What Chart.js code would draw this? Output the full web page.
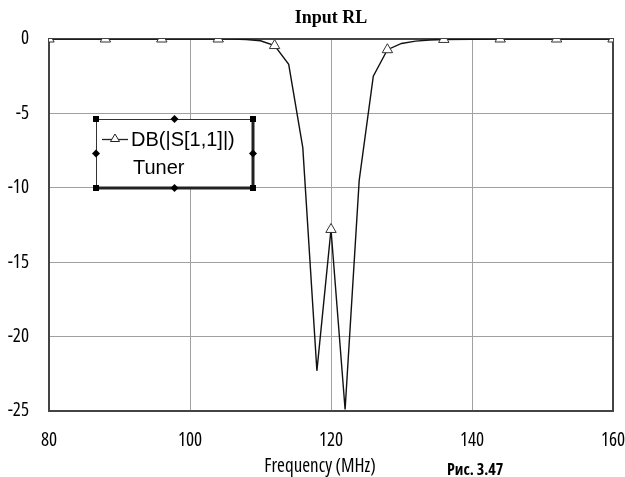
<!DOCTYPE html>
<html>
<head>
<meta charset="utf-8">
<script src="https://cdn.jsdelivr.net/npm/chart.js@4/dist/chart.umd.min.js"></script>
<style>
html,body{margin:0;padding:0;background:#fff;}
#c{display:block;}
</style>
</head>
<body>
<canvas id="c" width="625" height="477"></canvas>
<script>
// ---- data ----
const chartTitle = "Input RL";
const xAxisTitle = "Frequency (MHz)";
const caption = "Рис. 3.47";
const seriesName = ["DB(|S[1,1]|)", "Tuner"];
const freq = [80, 88, 96, 104, 106, 108, 110, 112, 114, 116, 118, 120, 122, 124, 126, 128, 130, 132, 134, 136, 144, 152, 160];
const s11  = [0, 0, 0, 0, -0.01, -0.04, -0.12, -0.44, -1.7, -7.3, -22.3, -12.8, -24.9, -9.5, -2.5, -0.72, -0.3, -0.14, -0.07, -0.03, 0, 0, 0];
const markerStep = 8;
const xTicks = [80, 100, 120, 140, 160];
const yTicks = [0, -5, -10, -15, -20, -25];

const points = freq.map((f, i) => ({x: f, y: s11[i]}));
const narrowFamily = '"Open Sans", "DejaVu Sans Condensed", sans-serif';
const tickFont = {family: narrowFamily, size: 19, weight: 'condensed'};

const decor = {
  id: 'decor',
  beforeDatasetsDraw(chart) {
    const {ctx, chartArea: a} = chart;
    ctx.save();
    ctx.strokeStyle = '#444';
    ctx.lineWidth = 2;
    ctx.strokeRect(a.left, a.top, a.right - a.left, a.bottom - a.top);
    ctx.restore();
  },
  afterDraw(chart) {
    const {ctx, chartArea: a} = chart;
    ctx.save();
    ctx.fillStyle = '#000';
    ctx.font = 'bold 18px "Liberation Serif", "Times New Roman", serif';
    ctx.textAlign = 'center';
    ctx.textBaseline = 'middle';
    ctx.fillText(chartTitle, (a.left + a.right) / 2, 18);
    ctx.font = 'condensed 19px ' + narrowFamily;
    ctx.fillText(xAxisTitle, 320, 467);
    ctx.font = 'bold condensed 16px ' + narrowFamily;
    ctx.textAlign = 'left';
    ctx.fillText(caption, 447, 470);

    // legend box
    const x0 = 96, y0 = 119, x1 = 253, y1 = 188;
    ctx.fillStyle = '#fff';
    ctx.fillRect(x0, y0, x1 - x0, y1 - y0);
    ctx.strokeStyle = '#333';
    ctx.lineWidth = 1;
    ctx.beginPath();
    ctx.moveTo(x0 + 0.5, y1); ctx.lineTo(x0 + 0.5, y0 + 0.5); ctx.lineTo(x1, y0 + 0.5);
    ctx.stroke();
    ctx.strokeStyle = '#222';
    ctx.lineWidth = 3;
    ctx.beginPath();
    ctx.moveTo(x1, y0); ctx.lineTo(x1, y1); ctx.lineTo(x0, y1);
    ctx.stroke();
    ctx.fillStyle = '#000';
    [[x0, y0], [x1, y0], [x0, y1], [x1, y1]].forEach(([hx, hy]) => ctx.fillRect(hx - 3, hy - 3, 6, 6));
    const mx = (x0 + x1) / 2, my = (y0 + y1) / 2;
    [[mx, y0], [mx, y1], [x0, my], [x1, my]].forEach(([hx, hy]) => {
      ctx.beginPath();
      ctx.moveTo(hx, hy - 4); ctx.lineTo(hx + 4, hy); ctx.lineTo(hx, hy + 4); ctx.lineTo(hx - 4, hy);
      ctx.closePath(); ctx.fill();
    });
    ctx.strokeStyle = '#222';
    ctx.lineWidth = 1.3;
    ctx.beginPath(); ctx.moveTo(102, 139.5); ctx.lineTo(128, 139.5); ctx.stroke();
    ctx.fillStyle = '#fff';
    ctx.lineWidth = 1;
    ctx.beginPath();
    ctx.moveTo(115, 134); ctx.lineTo(119.5, 141.5); ctx.lineTo(110.5, 141.5); ctx.closePath();
    ctx.fill(); ctx.stroke();
    ctx.fillStyle = '#000';
    ctx.font = '20px "Liberation Sans", Arial, sans-serif';
    ctx.textAlign = 'left';
    ctx.textBaseline = 'middle';
    ctx.fillText(seriesName[0], 131, 140);
    ctx.fillText(seriesName[1], 133, 168);
    ctx.restore();
  }
};

new Chart(document.getElementById('c'), {
  type: 'line',
  data: {
    datasets: [{
      label: seriesName.join(' '),
      data: points,
      borderColor: '#111',
      borderWidth: 1.4,
      tension: 0,
      pointStyle: 'triangle',
      pointRadius: ctx => (ctx.raw && ctx.raw.x % markerStep === 0) ? 6 : 0,
      pointHoverRadius: 0,
      pointBackgroundColor: '#fff',
      pointBorderColor: '#333',
      pointBorderWidth: 1
    }]
  },
  options: {
    responsive: false,
    animation: false,
    devicePixelRatio: 1,
    layout: {padding: {top: 39, right: 12, left: 0, bottom: 0}},
    plugins: {legend: {display: false}, tooltip: {enabled: false}, title: {display: false}},
    scales: {
      x: {
        type: 'linear', min: 80, max: 160,
        afterBuildTicks: s => { s.ticks = xTicks.map(v => ({value: v})); },
        afterFit: s => { s.height = 66; s.paddingLeft = 0; s.paddingRight = 0; },
        grid: {color: '#a0a0a0', lineWidth: 1, drawTicks: false},
        border: {display: false},
        ticks: {color: '#000', font: tickFont, padding: 18, maxRotation: 0}
      },
      y: {
        type: 'linear', min: -25, max: 0,
        afterBuildTicks: s => { s.ticks = yTicks.map(v => ({value: v})); },
        afterFit: s => { s.width = 49; s.paddingTop = 0; s.paddingBottom = 0; },
        grid: {color: '#a0a0a0', lineWidth: 1, drawTicks: false},
        border: {display: false},
        ticks: {color: '#000', font: tickFont, padding: 20}
      }
    }
  },
  plugins: [decor]
});
</script>
</body>
</html>
